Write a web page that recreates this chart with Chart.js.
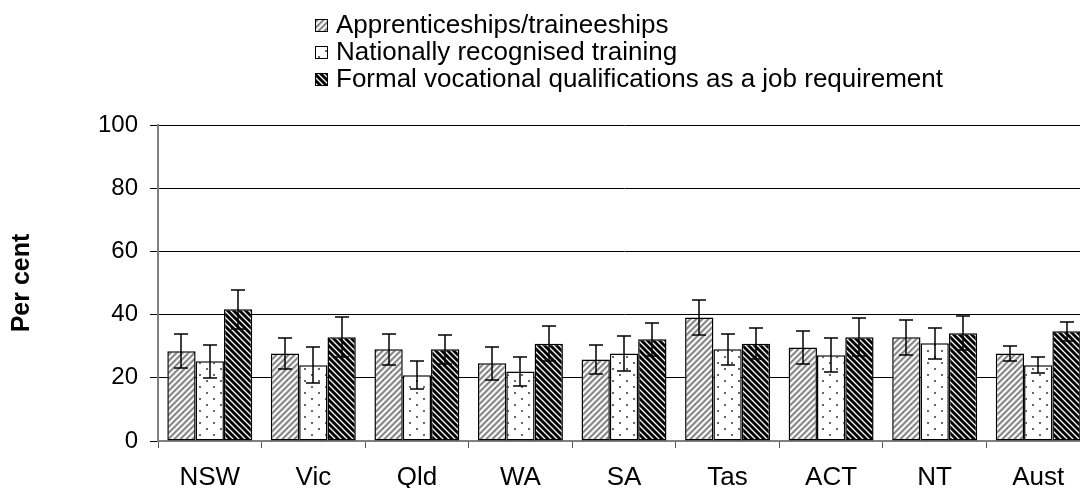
<!DOCTYPE html>
<html>
<head>
<meta charset="utf-8">
<script src="https://cdn.jsdelivr.net/npm/chart.js@4/dist/chart.umd.min.js"></script>
<style>
  html, body { margin: 0; padding: 0; background: #fff; overflow: hidden; }
  canvas { display: block; }
</style>
</head>
<body>
<canvas id="chart" width="1090" height="488"></canvas>
<script>
const states = ['NSW', 'Vic', 'Qld', 'WA', 'SA', 'Tas', 'ACT', 'NT', 'Aust'];
const seriesNames = [
    'Apprenticeships/traineeships',
    'Nationally recognised training',
    'Formal vocational qualifications as a job requirement'
];

// per cent of employers, with +/- margin for the error bars
const apprenticeships = [28.4, 27.7, 29.0, 24.6, 25.8, 39.1, 29.6, 32.8, 27.7];
const apprenticeshipsErr = [5.4, 5.0, 5.0, 5.3, 4.7, 5.4, 5.3, 5.6, 2.5];
const recognised = [25.2, 24.0, 20.8, 22.0, 27.7, 29.0, 27.1, 30.9, 24.0];
const recognisedErr = [5.3, 5.6, 4.5, 4.7, 5.6, 5.0, 5.4, 5.0, 2.5];
const jobRequirement = [41.7, 32.8, 29.0, 30.8, 32.2, 30.8, 32.8, 34.1, 34.7];
const jobRequirementErr = [6.2, 6.3, 4.6, 5.6, 5.3, 5.0, 6.0, 5.3, 3.0];

const FONT = "'Liberation Sans', Arial, sans-serif";
Chart.defaults.font.family = FONT;
Chart.defaults.font.size = 24;
Chart.defaults.color = '#000';

const ctx = document.getElementById('chart').getContext('2d');

function makePattern(w, h, paint) {
    const c = document.createElement('canvas');
    c.width = w;
    c.height = h;
    const g = c.getContext('2d');
    g.fillStyle = '#fff';
    g.fillRect(0, 0, w, h);
    paint(g);
    return ctx.createPattern(c, 'repeat');
}

// diagonal hatching on a 6px period, dir 1 = "/" and -1 = "\"
function stripes(colors, dir) {
    return g => {
        for (let y = 0; y < 6; y++) {
            for (let x = 0; x < 6; x++) {
                const k = dir > 0 ? (x + y) % 6 : ((x - y) % 6 + 6) % 6;
                g.fillStyle = colors[k];
                g.fillRect(x, y, 1, 1);
            }
        }
    };
}

const greyHatch = makePattern(6, 6,
    stripes(['#7c7c7c', '#8e8e8e', '#c6c6c6', '#f6f6f6', '#f6f6f6', '#c6c6c6'], 1));
const blackHatch = makePattern(6, 6,
    stripes(['#000', '#000', '#000', '#707070', '#fff', '#707070'], -1));
const dots = makePattern(14, 12, g => {
    g.fillStyle = '#666';
    g.fillRect(3, 2, 2, 2);
    g.fillRect(10, 8, 2, 2);
});

const errorBars = {
    id: 'errorBars',
    afterDatasetsDraw(chart) {
        const {ctx, scales: {y}} = chart;
        ctx.save();
        ctx.strokeStyle = '#000';
        ctx.lineWidth = 1.5;
        chart.data.datasets.forEach((ds, i) => {
            chart.getDatasetMeta(i).data.forEach((bar, j) => {
                const v = ds.data[j];
                const e = ds.errors[j];
                const top = Math.round(y.getPixelForValue(v + e));
                const bot = Math.round(y.getPixelForValue(v - e));
                const x = Math.round(bar.x);
                ctx.beginPath();
                ctx.moveTo(x, top);
                ctx.lineTo(x, bot);
                ctx.moveTo(x - 7, top);
                ctx.lineTo(x + 7, top);
                ctx.moveTo(x - 7, bot);
                ctx.lineTo(x + 7, bot);
                ctx.stroke();
            });
        });
        ctx.restore();
    }
};

// stacked legend above the plot
const stackedLegend = {
    id: 'stackedLegend',
    afterDraw(chart) {
        const {ctx} = chart;
        ctx.save();
        ctx.font = '26px ' + FONT;
        ctx.textBaseline = 'middle';
        chart.data.datasets.forEach((ds, i) => {
            const yc = 25 + i * 27;
            ctx.fillStyle = ds.backgroundColor;
            ctx.fillRect(315, yc - 6, 13, 13);
            ctx.strokeStyle = '#000';
            ctx.lineWidth = 1;
            ctx.strokeRect(315.5, yc - 5.5, 12, 12);
            ctx.fillStyle = '#000';
            ctx.fillText(ds.label, 336, yc + 1);
        });
        ctx.restore();
    }
};

const makeSet = (label, data, errors, fill) => ({
    label: label,
    data: data,
    errors: errors,
    backgroundColor: fill,
    borderColor: '#000',
    borderWidth: 1.5,
    borderSkipped: false
});

new Chart(ctx, {
    type: 'bar',
    data: {
        labels: states,
        datasets: [
            makeSet(seriesNames[0], apprenticeships, apprenticeshipsErr, greyHatch),
            makeSet(seriesNames[1], recognised, recognisedErr, dots),
            makeSet(seriesNames[2], jobRequirement, jobRequirementErr, blackHatch)
        ]
    },
    options: {
        responsive: false,
        animation: false,
        devicePixelRatio: 1,
        layout: {padding: {top: 125, right: 0, left: 0, bottom: 0}},
        datasets: {bar: {barPercentage: 1, categoryPercentage: 0.82}},
        plugins: {legend: {display: false}, tooltip: {enabled: false}},
        scales: {
            x: {
                grid: {
                    offset: true,
                    drawOnChartArea: false,
                    drawTicks: true,
                    tickLength: 7,
                    color: '#555'
                },
                border: {color: '#808080', width: 2},
                ticks: {padding: 14, font: {size: 26}},
                afterFit: s => { s.height = 47; }
            },
            y: {
                min: 0,
                max: 100,
                ticks: {stepSize: 20, padding: 12, font: {size: 24}},
                grid: {color: '#000', lineWidth: 1, tickLength: 8},
                border: {color: '#808080', width: 2},
                title: {
                    display: true,
                    text: 'Per cent',
                    font: {size: 25, weight: 'bold'},
                    padding: {top: 7, bottom: 0}
                },
                afterFit: s => { s.width = 158; }
            }
        }
    },
    plugins: [errorBars, stackedLegend]
});
</script>
</body>
</html>
